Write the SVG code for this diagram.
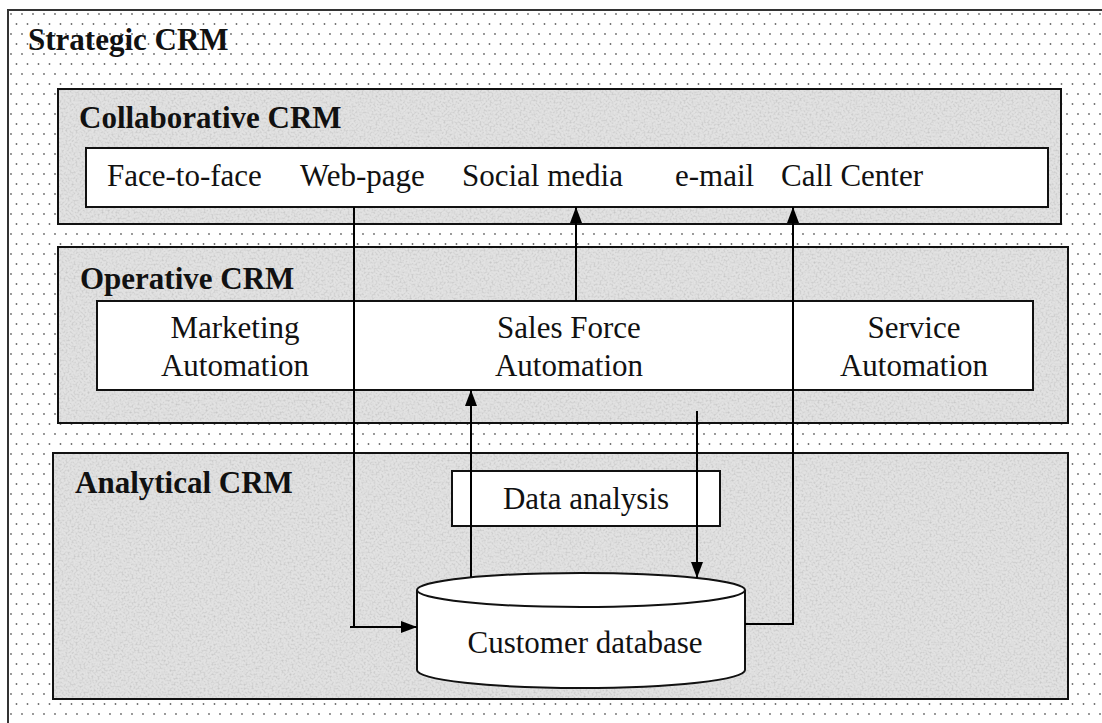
<svg xmlns="http://www.w3.org/2000/svg" width="1102" height="723" viewBox="0 0 1102 723">
  <defs>
    <pattern id="dots" x="8" y="10" width="11" height="20" patternUnits="userSpaceOnUse">
      <circle cx="3" cy="4" r="0.9" fill="#6a6a6a"/>
      <circle cx="8.5" cy="14" r="0.9" fill="#6a6a6a"/>
    </pattern>
    <filter id="grain" x="0" y="0" width="100%" height="100%">
      <feTurbulence type="fractalNoise" baseFrequency="0.5" numOctaves="3" seed="7" result="n"/>
      <feColorMatrix in="n" type="matrix" values="0 0 0 0 0.55  0 0 0 0 0.55  0 0 0 0 0.55  2.2 0 0 0 -0.95" result="g"/>
      <feComposite in="g" in2="SourceGraphic" operator="in" result="gc"/>
      <feMerge><feMergeNode in="SourceGraphic"/><feMergeNode in="gc"/></feMerge>
    </filter>
    <marker id="arrow" viewBox="0 0 16 12" refX="16" refY="6" markerWidth="16" markerHeight="12" markerUnits="userSpaceOnUse" orient="auto">
      <path d="M0,0 L16,6 L0,12 Z" fill="#000"/>
    </marker>
    <style>
      .panel { fill: #e2e2e2; filter: url(#grain); }
      .frame { fill: none; stroke: #111; stroke-width: 2; }
      .box { fill: #fff; stroke: #111; stroke-width: 2; }
      .title { font-family: "Liberation Serif", "Times New Roman", serif; font-weight: bold; font-size: 31px; fill: #111; }
      .lbl { font-family: "Liberation Serif", "Times New Roman", serif; font-size: 31px; fill: #111; }
      .mid { text-anchor: middle; }
      .conn { fill: none; stroke: #000; stroke-width: 2; }
    </style>
  </defs>

  <rect width="1102" height="723" fill="#fff"/>

  <g id="strategic-crm">
    <rect x="8" y="10" width="1110" height="725" fill="url(#dots)"/>
    <rect x="8" y="10" width="1110" height="725" fill="none" stroke="#333" stroke-width="2"/>
    <text class="title" x="28" y="50">Strategic CRM</text>
  </g>

  <g id="collaborative-crm">
    <rect class="panel" x="58" y="89" width="1003" height="135"/>
    <rect class="frame" x="58" y="89" width="1003" height="135"/>
    <text class="title" x="79" y="128">Collaborative CRM</text>
  </g>

  <g id="channels">
    <rect class="box" x="86" y="148" width="962" height="59"/>
    <text class="lbl" x="107" y="186">Face-to-face</text>
    <text class="lbl" x="300" y="186">Web-page</text>
    <text class="lbl" x="462" y="186">Social media</text>
    <text class="lbl" x="675" y="186">e-mail</text>
    <text class="lbl" x="781" y="186">Call Center</text>
  </g>

  <g id="operative-crm">
    <rect class="panel" x="58" y="247" width="1010" height="176"/>
    <rect class="frame" x="58" y="247" width="1010" height="176"/>
    <text class="title" x="80" y="289">Operative CRM</text>
  </g>

  <g id="operative-apps">
    <rect class="box" x="97" y="301" width="936" height="89"/>
    <text class="lbl mid" x="235" y="338">Marketing</text>
    <text class="lbl mid" x="235" y="376">Automation</text>
    <text class="lbl mid" x="569" y="338">Sales Force</text>
    <text class="lbl mid" x="569" y="376">Automation</text>
    <text class="lbl mid" x="914" y="338">Service</text>
    <text class="lbl mid" x="914" y="376">Automation</text>
  </g>

  <g id="analytical-crm">
    <rect class="panel" x="53" y="453" width="1015" height="246"/>
    <rect class="frame" x="53" y="453" width="1015" height="246"/>
    <text class="title" x="75" y="493">Analytical CRM</text>
  </g>

  <g id="data-analysis">
    <rect class="box" x="452" y="471" width="268" height="55"/>
    <text class="lbl mid" x="586" y="509">Data analysis</text>
  </g>

  <g id="customer-database">
    <path d="M417,590 V670 A164,18 0 0 0 745,670 V590 Z" fill="#fff"/>
    <path d="M417,590 V670 A164,18 0 0 0 745,670 V590" fill="none" stroke="#111" stroke-width="2"/>
    <ellipse cx="581" cy="590" rx="164" ry="17" fill="#fff" stroke="#111" stroke-width="2"/>
    <text class="lbl mid" x="585" y="653">Customer database</text>
  </g>

  <g id="connectors">
    <path class="conn" d="M350,627 H354 M354,207 V627 H417" marker-end="url(#arrow)"/>
    <path class="conn" d="M576,301 V207" marker-end="url(#arrow)"/>
    <path class="conn" d="M471,577 V390" marker-end="url(#arrow)"/>
    <path class="conn" d="M697,411 V578" marker-end="url(#arrow)"/>
    <path class="conn" d="M745,624 H793 V207" marker-end="url(#arrow)"/>
  </g>
</svg>
